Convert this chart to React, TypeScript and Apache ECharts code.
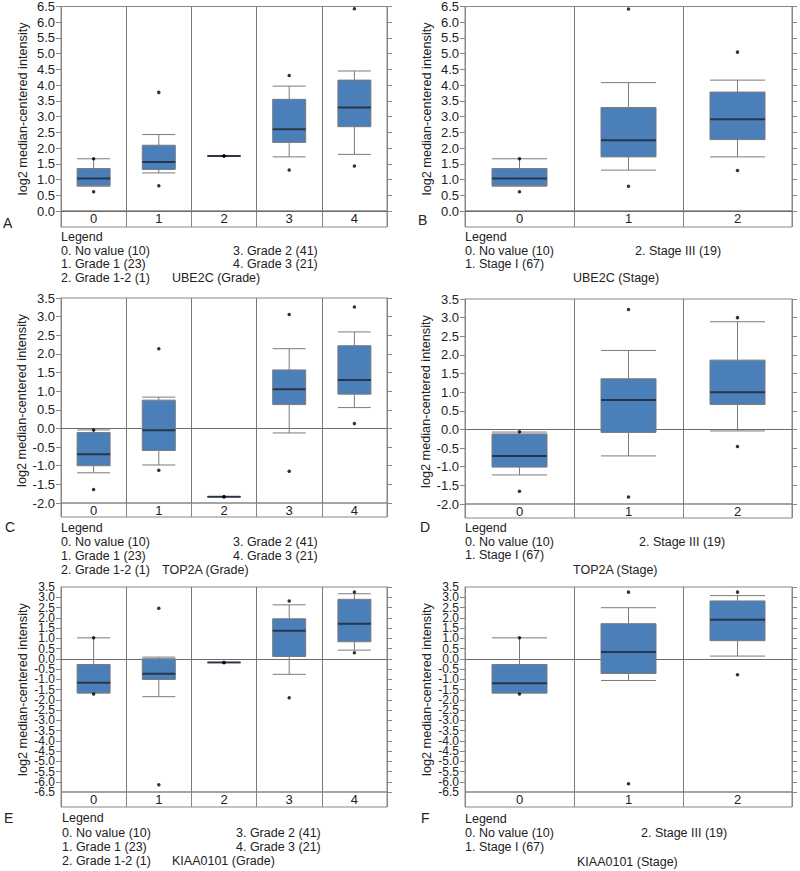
import React, { useEffect, useRef } from 'react';
import * as echarts from 'echarts';

const gradeCategories = ['0', '1', '2', '3', '4'];
const stageCategories = ['0', '1', '2'];

// box values: [lower whisker, Q1, median, Q3, upper whisker]
const ube2cGradeBoxes = [
  [0.79, 0.8, 1.03, 1.35, 1.66],
  [1.21, 1.32, 1.56, 2.09, 2.43],
  [1.75, 1.75, 1.75, 1.75, 1.75],
  [1.72, 2.18, 2.6, 3.55, 3.97],
  [1.8, 2.68, 3.29, 4.16, 4.45],
];
// extreme points: [max, min]
const ube2cGradeExtremes = [[1.66, 0.61], [3.77, 0.8], [1.75, 1.75], [4.31, 1.3], [6.43, 1.43]];

const ube2cStageBoxes = [
  [0.79, 0.8, 1.03, 1.35, 1.66],
  [1.3, 1.72, 2.25, 3.29, 4.08],
  [1.72, 2.27, 2.92, 3.78, 4.16],
];
const ube2cStageExtremes = [[1.66, 0.61], [6.42, 0.79], [5.05, 1.29]];

const top2aGradeBoxes = [
  [-1.19, -1.0, -0.69, -0.11, -0.04],
  [-0.98, -0.59, -0.05, 0.76, 0.84],
  [-1.83, -1.83, -1.83, -1.83, -1.83],
  [-0.12, 0.64, 1.05, 1.57, 2.14],
  [0.56, 0.92, 1.3, 2.22, 2.59],
];
const top2aGradeExtremes = [[-0.04, -1.64], [2.14, -1.12], [-1.83, -1.83], [3.06, -1.15], [3.26, 0.13]];

const top2aStageBoxes = [
  [-1.22, -1.01, -0.71, -0.12, -0.07],
  [-0.71, -0.08, 0.79, 1.36, 2.12],
  [-0.04, 0.67, 1.0, 1.86, 2.89],
];
const top2aStageExtremes = [[-0.06, -1.66], [3.22, -1.81], [3.0, -0.46]];

const kiaaGradeBoxes = [
  [-1.67, -1.67, -1.17, -0.28, 1.02],
  [-1.85, -1.01, -0.73, 0.0, 0.08],
  [-0.18, -0.18, -0.18, -0.18, -0.18],
  [-0.76, 0.11, 1.37, 1.95, 2.63],
  [0.42, 0.83, 1.71, 2.9, 3.17],
];
const kiaaGradeExtremes = [[1.02, -1.72], [2.46, -6.15], [-0.18, -0.18], [2.82, -1.9], [3.26, 0.29]];

const kiaaStageBoxes = [
  [-1.67, -1.67, -1.19, -0.28, 1.02],
  [-1.06, -0.72, 0.33, 1.71, 2.49],
  [0.13, 0.88, 1.9, 2.82, 3.08],
];
const kiaaStageExtremes = [[1.02, -1.72], [3.25, -6.1], [3.25, -0.78]];

const gradeLegendLeft = ['0. No value (10)', '1. Grade 1 (23)', '2. Grade 1-2 (1)'];
const gradeLegendRight = ['3. Grade 2 (41)', '4. Grade 3 (21)'];
const stageLegendLeft = ['0. No value (10)', '1. Stage I (67)'];
const stageLegendRight = ['2. Stage III (19)'];
const yAxisTitle = 'log2 median-centered intensity';

const FONT = "'Liberation Sans', Arial, Helvetica, sans-serif";
const FRAME = '#8a8585';
const TEXT = '#222222';

const panels = [
  {
    letter: 'A', title: 'UBE2C (Grade)', cats: gradeCategories, boxes: ube2cGradeBoxes, extremes: ube2cGradeExtremes,
    min: 0, max: 6.5, left: 61, top: 6, width: 326, height: 205, band: 16, boxW: 33, tickFont: 13, split: false,
    letterPos: [3, 223], legendX: 61, legendRightX: 233, rows: [237, 251, 264, 278], titlePos: [172, 278],
    legL: gradeLegendLeft, legR: gradeLegendRight,
  },
  {
    letter: 'B', title: 'UBE2C (Stage)', cats: stageCategories, boxes: ube2cStageBoxes, extremes: ube2cStageExtremes,
    min: 0, max: 6.5, left: 465, top: 6, width: 327, height: 205, band: 16, boxW: 55, tickFont: 13, split: false,
    letterPos: [418, 220], legendX: 465, legendRightX: 635, rows: [237, 251, 264], titlePos: [573, 278],
    legL: stageLegendLeft, legR: stageLegendRight,
  },
  {
    letter: 'C', title: 'TOP2A (Grade)', cats: gradeCategories, boxes: top2aGradeBoxes, extremes: top2aGradeExtremes,
    min: -2, max: 3.5, left: 61, top: 298, width: 326, height: 205, band: 14, boxW: 33, tickFont: 13, split: false,
    letterPos: [5, 527], legendX: 61, legendRightX: 233, rows: [528, 542, 556, 570], titlePos: [162, 570],
    legL: gradeLegendLeft, legR: gradeLegendRight,
  },
  {
    letter: 'D', title: 'TOP2A (Stage)', cats: stageCategories, boxes: top2aStageBoxes, extremes: top2aStageExtremes,
    min: -2, max: 3.5, left: 465, top: 299, width: 327, height: 205, band: 14, boxW: 55, tickFont: 13, split: false,
    letterPos: [420, 527], legendX: 465, legendRightX: 639, rows: [528, 542, 555], titlePos: [573, 570],
    legL: stageLegendLeft, legR: stageLegendRight,
  },
  {
    letter: 'E', title: 'KIAA0101 (Grade)', cats: gradeCategories, boxes: kiaaGradeBoxes, extremes: kiaaGradeExtremes,
    min: -6.5, max: 3.5, left: 61, top: 587, width: 326, height: 205, band: 15, boxW: 33, tickFont: 12, split: true,
    letterPos: [4, 818], legendX: 62, legendRightX: 236, rows: [818, 833, 847, 861], titlePos: [172, 861],
    legL: gradeLegendLeft, legR: gradeLegendRight,
  },
  {
    letter: 'F', title: 'KIAA0101 (Stage)', cats: stageCategories, boxes: kiaaStageBoxes, extremes: kiaaStageExtremes,
    min: -6.5, max: 3.5, left: 465, top: 587, width: 327, height: 205, band: 15, boxW: 55, tickFont: 12, split: true,
    letterPos: [421, 818], legendX: 465, legendRightX: 641, rows: [819, 833, 847], titlePos: [577, 862],
    legL: stageLegendLeft, legR: stageLegendRight,
  },
];

function buildOption() {
  const grid: any[] = [];
  const xAxis: any[] = [];
  const yAxis: any[] = [];
  const series: any[] = [];
  const graphic: any[] = [];

  const txt = (text: string, x: number, y: number, size = 12.5) => ({
    type: 'text',
    silent: true,
    style: { text, x, y, fill: TEXT, font: `${size}px ${FONT}`, verticalAlign: 'middle', align: 'left' },
  });

  const isWhole = (v: number) => Math.abs(Math.round(v) - v) < 1e-6;

  panels.forEach((p) => {
    const gMain = grid.length;
    grid.push({
      left: p.left, top: p.top, width: p.width, height: p.height,
      show: true, borderColor: FRAME, borderWidth: 1, backgroundColor: 'transparent', containLabel: false,
    });
    const gBand = grid.length;
    grid.push({
      left: p.left, top: p.top + p.height, width: p.width, height: p.band,
      show: true, borderColor: FRAME, borderWidth: 1, backgroundColor: 'transparent', containLabel: false,
    });

    const xMain = xAxis.length;
    xAxis.push({
      type: 'category', gridIndex: gMain, data: p.cats, boundaryGap: true,
      axisLine: { show: true, onZero: true, lineStyle: { color: '#6a6a6a', width: 1 } },
      axisTick: { show: false }, axisLabel: { show: false },
      splitLine: { show: true, lineStyle: { color: '#7a7a7a', width: 1 } },
    });
    xAxis.push({
      type: 'category', gridIndex: gBand, data: p.cats, boundaryGap: true, position: 'bottom',
      axisLine: { show: false }, axisTick: { show: false },
      axisLabel: { show: true, margin: -(p.band - 1), fontSize: 13, color: TEXT, fontFamily: FONT },
      splitLine: { show: true, lineStyle: { color: FRAME, width: 1 } },
    });

    const labelBase = { show: true, margin: 6, fontSize: p.tickFont, color: TEXT, fontFamily: FONT, hideOverlap: false };

    const yLeft = yAxis.length;
    yAxis.push({
      type: 'value', gridIndex: gMain, min: p.min, max: p.max, interval: 0.5, position: 'left',
      name: yAxisTitle, nameLocation: 'middle', nameGap: 32, nameRotate: 90,
      nameTextStyle: { fontSize: 12.7, color: TEXT, fontFamily: FONT },
      axisLine: { show: true, lineStyle: { color: FRAME } },
      axisTick: { show: true, length: 5, lineStyle: { color: FRAME } },
      axisLabel: p.split
        ? { ...labelBase, showMinLabel: false, showMaxLabel: false, formatter: (v: number) => (isWhole(v) ? v.toFixed(1) : '') }
        : { ...labelBase, showMinLabel: true, showMaxLabel: true, formatter: (v: number) => v.toFixed(1) },
      splitLine: { show: false },
    });
    if (p.split) {
      yAxis.push({
        type: 'value', gridIndex: gMain, min: p.min, max: p.max, interval: 0.5, position: 'left',
        axisLine: { show: false }, axisTick: { show: false }, splitLine: { show: false },
        axisLabel: { ...labelBase, showMinLabel: true, showMaxLabel: true, formatter: (v: number) => (isWhole(v) ? '' : v.toFixed(1)) },
      });
    }
    yAxis.push({
      type: 'value', gridIndex: gMain, min: p.min, max: p.max, interval: 0.5, position: 'right',
      axisLine: { show: true, lineStyle: { color: FRAME } },
      axisTick: { show: true, length: 5, lineStyle: { color: FRAME } },
      axisLabel: { show: false }, splitLine: { show: false },
    });
    yAxis.push({ type: 'value', gridIndex: gBand, min: 0, max: 1, show: false });

    series.push({
      type: 'boxplot', xAxisIndex: xMain, yAxisIndex: yLeft, silent: true,
      boxWidth: [p.boxW, p.boxW],
      itemStyle: { color: '#4a7fba', borderColor: '#7b7b7b', borderWidth: 1 },
      data: p.boxes,
      z: 3,
    });
    series.push({
      type: 'scatter', xAxisIndex: xMain, yAxisIndex: yLeft, silent: true,
      symbol: 'rect', symbolSize: [p.boxW, 2],
      itemStyle: { color: '#16263a' },
      data: p.boxes.map((b, i) => [i, b[2]]),
      z: 4,
    });
    const pts: number[][] = [];
    p.extremes.forEach((e, i) => { pts.push([i, e[0]]); pts.push([i, e[1]]); });
    series.push({
      type: 'scatter', xAxisIndex: xMain, yAxisIndex: yLeft, silent: true,
      symbol: 'circle', symbolSize: 3.5,
      itemStyle: { color: '#000000' },
      data: pts,
      z: 5,
    });

    graphic.push(txt(p.letter, p.letterPos[0], p.letterPos[1], 14));
    graphic.push(txt('Legend', p.legendX, p.rows[0]));
    p.legL.forEach((s, i) => graphic.push(txt(s, p.legendX, p.rows[i + 1])));
    p.legR.forEach((s, i) => graphic.push(txt(s, p.legendRightX, p.rows[i + 1])));
    graphic.push(txt(p.title, p.titlePos[0], p.titlePos[1]));
  });

  return {
    animation: false,
    backgroundColor: '#ffffff',
    textStyle: { fontFamily: FONT },
    grid, xAxis, yAxis, series, graphic,
  };
}

export default function App() {
  const ref = useRef<HTMLDivElement>(null);
  useEffect(() => {
    if (!ref.current) return;
    const chart = echarts.init(ref.current, undefined, { renderer: 'svg' });
    chart.setOption(buildOption() as any);
    return () => chart.dispose();
  }, []);
  return (
    <div
      ref={ref}
      style={{ position: 'absolute', left: 0, top: 0, width: 800, height: 871, background: '#fff' }}
    />
  );
}
